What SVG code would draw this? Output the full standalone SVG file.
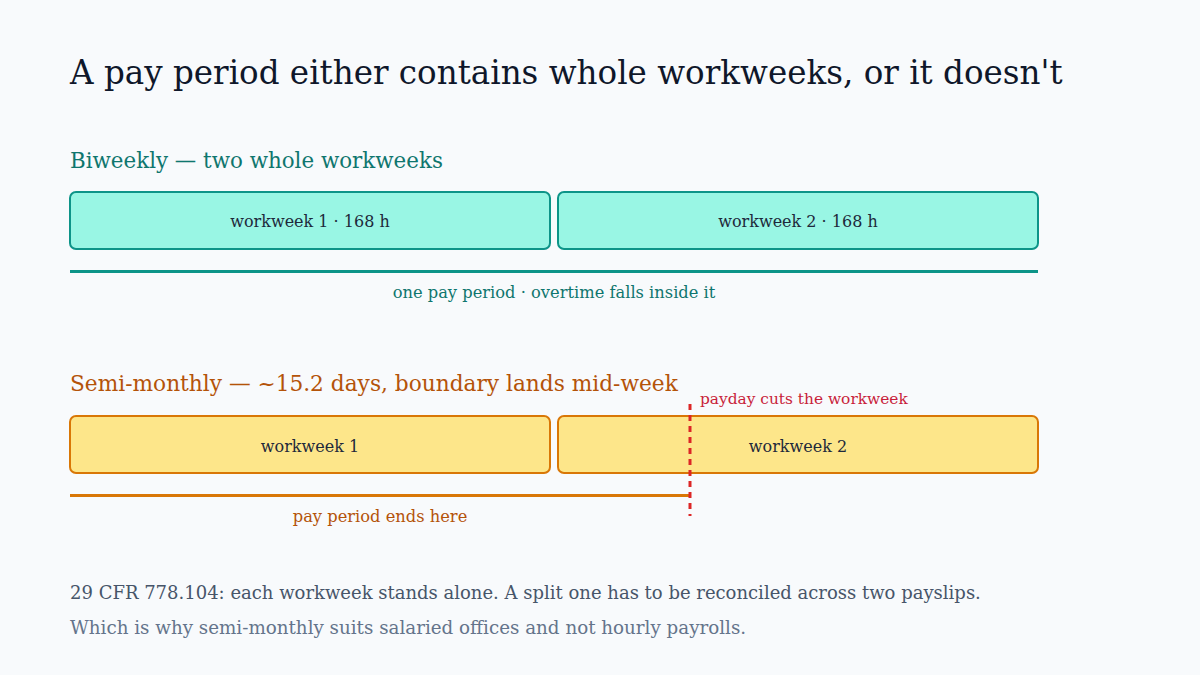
<svg xmlns="http://www.w3.org/2000/svg" width="1200" height="675" viewBox="0 0 1200 675">
<style>
text{font-family:"DejaVu Serif","Liberation Serif",serif}
.title{font-size:32.6px;fill:#0f172a}
.h-teal{font-size:21.4px;fill:#0f766e}
.h-orange{font-size:21.7px;fill:#b45309}
.box-teal{fill:#99f6e4;stroke:#0d9488;stroke-width:2}
.box-amber{fill:#fde68a;stroke:#d97706;stroke-width:2}
.lbl{font-size:16px;fill:#1e293b;text-anchor:middle}
.note-teal{font-size:16.3px;fill:#0f766e;text-anchor:middle}
.note-orange{font-size:16.3px;fill:#b45309;text-anchor:middle}
.note-red{font-size:15.4px;fill:#c81e3a}
.foot1{font-size:18px;fill:#475569}
.foot2{font-size:18.3px;fill:#64748b}
</style>
<rect width="1200" height="675" fill="#f8fafc"/>
<text class="title" x="70" y="84">A pay period either contains whole workweeks, or it doesn't</text>
<text class="h-teal" x="70" y="168">Biweekly — two whole workweeks</text>
<g id="bw-week1"><rect class="box-teal" x="70" y="192" width="480" height="57" rx="6"/><text class="lbl" x="310" y="227">workweek 1 · 168 h</text></g>
<g id="bw-week2"><rect class="box-teal" x="558" y="192" width="480" height="57" rx="6"/><text class="lbl" x="798" y="227">workweek 2 · 168 h</text></g>
<g id="bw-period"><line x1="70" y1="271.5" x2="1038" y2="271.5" stroke="#0d9488" stroke-width="3"/><text class="note-teal" x="554" y="298">one pay period · overtime falls inside it</text></g>
<text class="h-orange" x="70" y="391">Semi-monthly — ~15.2 days, boundary lands mid-week</text>
<g id="sm-week1"><rect class="box-amber" x="70" y="416" width="480" height="57" rx="6"/><text class="lbl" x="310" y="452">workweek 1</text></g>
<g id="sm-week2"><rect class="box-amber" x="558" y="416" width="480" height="57" rx="6"/><text class="lbl" x="798" y="452">workweek 2</text></g>
<g id="connectors">
<line x1="70" y1="495.5" x2="690" y2="495.5" stroke="#d97706" stroke-width="3"/>
<line x1="690" y1="404" x2="690" y2="516" stroke="#dc2626" stroke-width="3" stroke-dasharray="6 5"/>
</g>
<text class="note-red" x="700" y="404">payday cuts the workweek</text>
<text class="note-orange" x="380" y="522">pay period ends here</text>
<text class="foot1" x="70" y="599">29 CFR 778.104: each workweek stands alone. A split one has to be reconciled across two payslips.</text>
<text class="foot2" x="70" y="634">Which is why semi-monthly suits salaried offices and not hourly payrolls.</text>
</svg>
